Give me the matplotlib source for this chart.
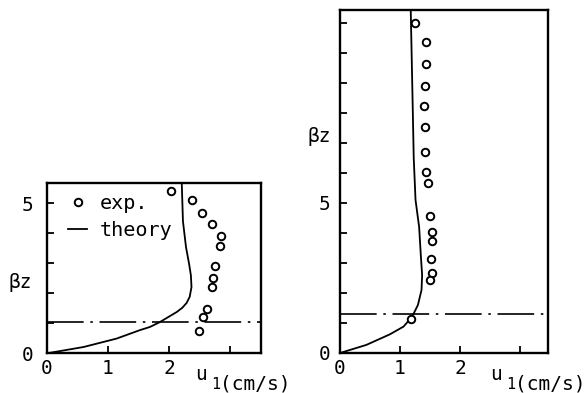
import matplotlib
matplotlib.use('Agg')
import matplotlib.pyplot as plt
from matplotlib.lines import Line2D

# ---------------- data ----------------
# left panel
left_exp_u = [2.03, 2.38, 2.55, 2.71, 2.85, 2.83, 2.75, 2.73, 2.71, 2.63, 2.56, 2.49]
left_exp_bz = [5.41, 5.10, 4.69, 4.32, 3.90, 3.58, 2.91, 2.51, 2.21, 1.49, 1.21, 0.73]
left_th_u = [0.0, 0.60, 1.14, 1.52, 1.69, 1.85, 1.99, 2.13, 2.22, 2.29, 2.34, 2.37,
             2.36, 2.33, 2.28, 2.23, 2.21]
left_th_bz = [0.0, 0.21, 0.49, 0.77, 0.88, 1.04, 1.21, 1.38, 1.52, 1.68, 1.88, 2.21,
              2.60, 2.99, 3.54, 4.40, 5.69]
left_ref_bz = 1.05

# right panel
right_exp_u = [1.25, 1.43, 1.43, 1.42, 1.40, 1.42, 1.41, 1.43, 1.47, 1.50, 1.53, 1.53,
               1.52, 1.54, 1.50, 1.18]
right_exp_bz = [11.01, 10.36, 9.62, 8.90, 8.23, 7.53, 6.70, 6.02, 5.66, 4.57, 4.04, 3.74,
                3.12, 2.68, 2.43, 1.14]
right_th_u = [0.0, 0.44, 0.83, 1.06, 1.20, 1.30, 1.36, 1.37, 1.35, 1.32, 1.26, 1.23, 1.21, 1.18]
right_th_bz = [0.0, 0.27, 0.62, 0.88, 1.20, 1.60, 2.10, 2.60, 3.20, 4.20, 5.10, 6.50, 8.50, 11.43]
right_ref_bz = 1.3

x_ticks = [0, 1, 2, 3]
x_ticklabels = ['0', '1', '2', '']
left_yticks = [0, 1, 2, 3, 4, 5]
left_yticklabels = ['0', '', '', '', '', '5']
right_yticks = list(range(0, 12))
right_yticklabels = ['0', '', '', '', '', '5', '', '', '', '', '', '']
legend_labels = ['exp.', 'theory']

# ---------------- figure ----------------
W, H = 585, 393
fig = plt.figure(figsize=(W / 100, H / 100), dpi=100)
MONO = 'DejaVu Sans Mono'


def rect(x0, x1, ytop, ybot):
    return [x0 / W, 1 - ybot / H, (x1 - x0) / W, (ybot - ytop) / H]


def px(x, y):
    return x / W, 1 - y / H


axL = fig.add_axes(rect(47, 261, 182.7, 353.3))
axR = fig.add_axes(rect(340, 548, 10, 353))

dashdot = (0, (22, 4, 1.5, 4))

for ax, eu, ez, tu, tz, ref, xmax, ymax, yt, ytl, ypad in [
        (axL, left_exp_u, left_exp_bz, left_th_u, left_th_bz, left_ref_bz, 3.51, 5.69,
         left_yticks, left_yticklabels, 10),
        (axR, right_exp_u, right_exp_bz, right_th_u, right_th_bz, right_ref_bz, 3.47, 11.43,
         right_yticks, right_yticklabels, 7)]:
    ax.plot(tu, tz, color='black', lw=1.3, solid_joinstyle='round')
    ax.plot(eu, ez, linestyle='none', marker='o', markersize=5.4,
            markerfacecolor='white', markeredgecolor='black', markeredgewidth=1.4)
    ax.axhline(ref, color='black', lw=1.2, linestyle=dashdot)
    ax.set_xlim(0, xmax)
    ax.set_ylim(0, ymax)
    ax.set_xticks(x_ticks)
    ax.set_xticklabels(x_ticklabels, fontfamily=MONO, fontsize=14)
    ax.set_yticks(yt)
    ax.set_yticklabels(ytl, fontfamily=MONO, fontsize=14)
    ax.tick_params(axis='x', direction='in', length=5, width=1.3, pad=4)
    ax.tick_params(axis='y', direction='in', length=5, width=1.3, pad=ypad)
    for s in ax.spines.values():
        s.set_linewidth(1.7)

# legend (left panel)
handles = [Line2D([], [], linestyle='none', marker='o', markersize=5.4,
                  markerfacecolor='white', markeredgecolor='black', markeredgewidth=1.4),
           Line2D([], [], color='black', lw=1.3)]
axL.legend(handles, legend_labels, loc='upper left', bbox_to_anchor=px(68, 194),
           bbox_transform=fig.transFigure, frameon=False, borderpad=0, borderaxespad=0,
           handlelength=0.95, handletextpad=0.65, labelspacing=0.4,
           prop={'family': MONO, 'size': 14.5})

# y labels
fig.text(*px(20, 283), 'βz', ha='center', va='center', family=MONO, fontsize=14)
fig.text(*px(319, 137), 'βz', ha='center', va='center', family=MONO, fontsize=14)

# x labels
for ux in (195, 490):
    fig.text(*px(ux, 380), 'u', ha='left', va='baseline', family=MONO, fontsize=14)
    fig.text(*px(ux + 16, 389), '1', ha='left', va='baseline', family=MONO, fontsize=11)
    fig.text(*px(ux + 25, 389), '(cm/s)', ha='left', va='baseline', family=MONO, fontsize=14)

fig.savefig('out.png', dpi=100)
